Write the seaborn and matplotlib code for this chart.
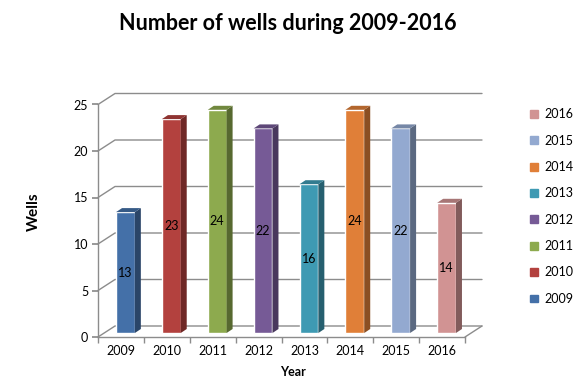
import numpy as np
import pandas as pd
import seaborn as sns
import matplotlib.pyplot as plt
from matplotlib.patches import Polygon, Patch
from matplotlib.colors import to_rgb

years = ['2009', '2010', '2011', '2012', '2013', '2014', '2015', '2016']
wells = [13, 23, 24, 22, 16, 24, 22, 14]
colors = ['#4470A8', '#B3413E', '#8DAA4E', '#765A96',
          '#3E9AB3', '#E07F38', '#93A9D0', '#D19393']

df = pd.DataFrame({'Year': years, 'Wells': wells})

sns.set_theme(style='white')
plt.rcParams['font.family'] = ['Lato', 'DejaVu Sans']
plt.rcParams['text.color'] = 'black'
plt.rcParams['axes.labelcolor'] = 'black'
plt.rcParams['xtick.color'] = 'black'
plt.rcParams['ytick.color'] = 'black'

W, H = 576, 384
px_x = 367 / 8      # pixels per category
px_y = 9.3          # pixels per well
fig = plt.figure(figsize=(W / 100, H / 100), dpi=100)
ax = fig.add_axes([98 / W, 47 / H, 367 / W, 27 * px_y / H])

sns.barplot(data=df, x='Year', y='Wells', hue='Year', palette=colors,
            width=0.41, saturation=1, legend=False, ax=ax, zorder=3)
ax.set_xlim(-0.5, 7.5)
ax.set_ylim(0, 27)

def dx(p):
    return p / px_x

def dy(p):
    return p / px_y

grid = '#8C8C8C'
# back wall + side wall gridlines (fake 3d)
wx, wy = dx(17), dy(11)
for v in range(0, 26, 5):
    ax.plot([-0.5, -0.5 + wx, 7.5 + wx], [v, v + wy, v + wy],
            color=grid, lw=1, clip_on=False, zorder=1)
ax.plot([7.5, 7.5 + wx], [0, wy], color=grid, lw=1, clip_on=False, zorder=1)

# shift bars to mid-depth and add side / top faces
bx, by = dx(4.5), dy(4)
ddx, ddy = dx(6), dy(4)
for p, c in zip(ax.patches, colors):
    p.set_x(p.get_x() + bx)
    p.set_y(by)
    x0, w, h = p.get_x(), p.get_width(), p.get_height()
    rgb = np.array(to_rgb(c))
    side = Polygon([(x0 + w, by), (x0 + w, by + h), (x0 + w + ddx, by + h + ddy),
                    (x0 + w + ddx, by + ddy)], closed=True, fc=rgb * 0.62,
                   ec='none', zorder=3, clip_on=False)
    top = Polygon([(x0, by + h), (x0 + w, by + h), (x0 + w + ddx, by + h + ddy),
                   (x0 + ddx, by + h + ddy)], closed=True, fc=rgb * 0.8,
                  ec='none', zorder=3, clip_on=False)
    ax.add_patch(side)
    ax.add_patch(top)

for cont in ax.containers:
    ax.bar_label(cont, label_type='center', fontsize=9, color='black')

# axes styling
for s in ['top', 'right']:
    ax.spines[s].set_visible(False)
for s in ['left', 'bottom']:
    ax.spines[s].set_color(grid)
    ax.spines[s].set_linewidth(1)
ax.spines['left'].set_bounds(0, 25)
ax.set_yticks(range(0, 26, 5))
ax.set_xticks(np.arange(-0.5, 8), minor=True)
ax.tick_params(axis='y', left=True, length=4, color=grid, labelsize=9, pad=3)
ax.tick_params(axis='x', which='major', length=0, labelsize=9, pad=6)
ax.tick_params(axis='x', which='minor', bottom=True, length=4, color=grid)

ax.set_xlabel('Year', fontsize=9, fontweight='bold')
ax.set_ylabel('Wells', fontsize=11, fontweight='bold')
ax.xaxis.set_label_coords((293 - 98) / 367, (337 - 366) / (27 * px_y))
ax.yaxis.set_label_coords((41 - 98) / 367, 0.5)

fig.text(0.5, 1 - 23 / H, 'Number of wells during 2009-2016',
         ha='center', va='center', fontsize=15.5, fontweight='bold')

handles = [Patch(color=c, label=y) for y, c in zip(years, colors)][::-1]
fig.legend(handles=handles, loc='upper left', bbox_to_anchor=(519 / W, 1 - 97 / H),
           frameon=False, fontsize=9, labelspacing=1.15, handlelength=0.6,
           handleheight=0.6, handletextpad=0.5)

fig.savefig('out.png', dpi=100)
